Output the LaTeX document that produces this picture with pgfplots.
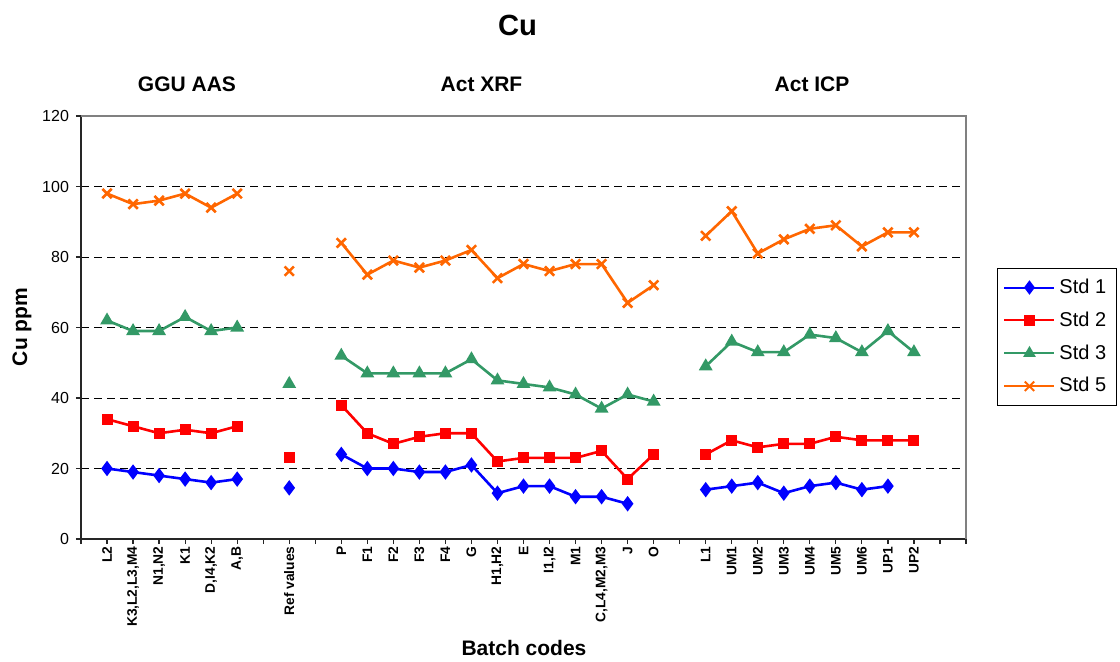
\documentclass[border=0pt]{standalone}
\usepackage{pgfplots}
\pgfplotsset{compat=1.18}
\usepackage{pgfplotstable}
\usepackage{fontspec}
\setmainfont{Liberation Sans}

\definecolor{cone}{HTML}{0000FF}
\definecolor{ctwo}{HTML}{FF0000}
\definecolor{cthree}{HTML}{339966}
\definecolor{cfive}{HTML}{FF6600}

% batch position, Cu ppm (nan breaks the line between method groups)
\pgfplotstableread{
x y
1 20
2 19
3 18
4 17
5 16
6 17
7 nan
8 14.5
9 nan
10 24
11 20
12 20
13 19
14 19
15 21
16 13
17 15
18 15
19 12
20 12
21 10
23 nan
24 14
25 15
26 16
27 13
28 15
29 16
30 14
31 15
}\stdone

\pgfplotstableread{
x y
1 34
2 32
3 30
4 31
5 30
6 32
7 nan
8 23
9 nan
10 38
11 30
12 27
13 29
14 30
15 30
16 22
17 23
18 23
19 23
20 25
21 17
22 24
23 nan
24 24
25 28
26 26
27 27
28 27
29 29
30 28
31 28
32 28
}\stdtwo

\pgfplotstableread{
x y
1 62
2 59
3 59
4 63
5 59
6 60
7 nan
8 44
9 nan
10 52
11 47
12 47
13 47
14 47
15 51
16 45
17 44
18 43
19 41
20 37
21 41
22 39
23 nan
24 49
25 56
26 53
27 53
28 58
29 57
30 53
31 59
32 53
}\stdthree

\pgfplotstableread{
x y
1 98
2 95
3 96
4 98
5 94
6 98
7 nan
8 76
9 nan
10 84
11 75
12 79
13 77
14 79
15 82
16 74
17 78
18 76
19 78
20 78
21 67
22 72
23 nan
24 86
25 93
26 81
27 85
28 88
29 89
30 83
31 87
32 87
}\stdfive

\begin{document}
\begin{tikzpicture}
\path[use as bounding box] (-40.5pt,-61pt) rectangle (519.5pt,269.5pt);
\begin{axis}[
    scale only axis,
    width=442.5pt, height=211.5pt,
    xmin=0, xmax=34, ymin=0, ymax=120,
    xtick={0,...,34},
    xticklabels={{},L2,{K3,L2,L3,M4},{N1,N2},K1,{D,I4,K2},{A,B},{},Ref values,{},
        P,F1,F2,F3,F4,G,{H1,H2},E,{I1,I2},M1,{C,L4,M2,M3},J,O,{},
        L1,UM1,UM2,UM3,UM4,UM5,UM6,UP1,UP2,{},{}},
    x tick label style={rotate=90, anchor=east, inner sep=1pt,
        font=\bfseries\fontsize{6.9}{8}\selectfont},
    ytick={0,20,...,120},
    y tick label style={font=\fontsize{8}{9}\selectfont},
    /pgf/number format/assume math mode=true,
    ymajorgrids,
    major grid style={black, line width=0.5pt, dash pattern=on 4pt off 2.5pt},
    axis lines*=left,
    axis line style={black!85, line width=0.9pt},
    tick align=outside,
    major tick length=2.5pt,
    tick style={black!85, line width=0.6pt},
    unbounded coords=jump,
    legend style={at={(1.035,0.641)}, anchor=north west, draw=black,
        line width=0.5pt, font=\fontsize{10}{12}\selectfont,
        inner xsep=3pt, inner ysep=3.2pt, row sep=3.7pt},
    legend cell align=left,
    legend image code/.code={\draw[line width=1pt, mark repeat=2,mark phase=2]
        plot coordinates {(0pt,0pt) (12.5pt,0pt) (25pt,0pt)};},
    every axis plot/.append style={line width=1.3pt},
]
\addplot[cone, mark=diamond*, mark size=2.8pt, mark options={solid}] table {\stdone};
\addlegendentry{Std 1}
\addplot[ctwo, mark=square*, mark size=2.1pt, mark options={solid}] table {\stdtwo};
\addlegendentry{Std 2}
\addplot[cthree, mark=triangle*, mark size=2.7pt, mark options={solid}] table {\stdthree};
\addlegendentry{Std 3}
\addplot[cfive, mark=x, mark size=3.3pt, mark options={solid}] table {\stdfive};
\addlegendentry{Std 5}
\end{axis}
\draw[gray, line width=1pt] (0pt,211.5pt) -- (442.5pt,211.5pt) -- (442.5pt,0pt);
\node[font=\bfseries\fontsize{14.6}{17}\selectfont] at (218.25pt,256.75pt) {Cu};
\node[font=\bfseries\fontsize{10.5}{12}\selectfont] at (53pt,227.25pt) {GGU AAS};
\node[font=\bfseries\fontsize{10.5}{12}\selectfont] at (200.25pt,227.25pt) {Act XRF};
\node[font=\bfseries\fontsize{10.5}{12}\selectfont] at (365.5pt,227.25pt) {Act ICP};
\node[font=\bfseries\fontsize{10.5}{12}\selectfont, rotate=90] at (-29.5pt,106pt) {Cu ppm};
\node[font=\bfseries\fontsize{10.5}{12}\selectfont] at (221.5pt,-54.5pt) {Batch codes};
\end{tikzpicture}
\end{document}
